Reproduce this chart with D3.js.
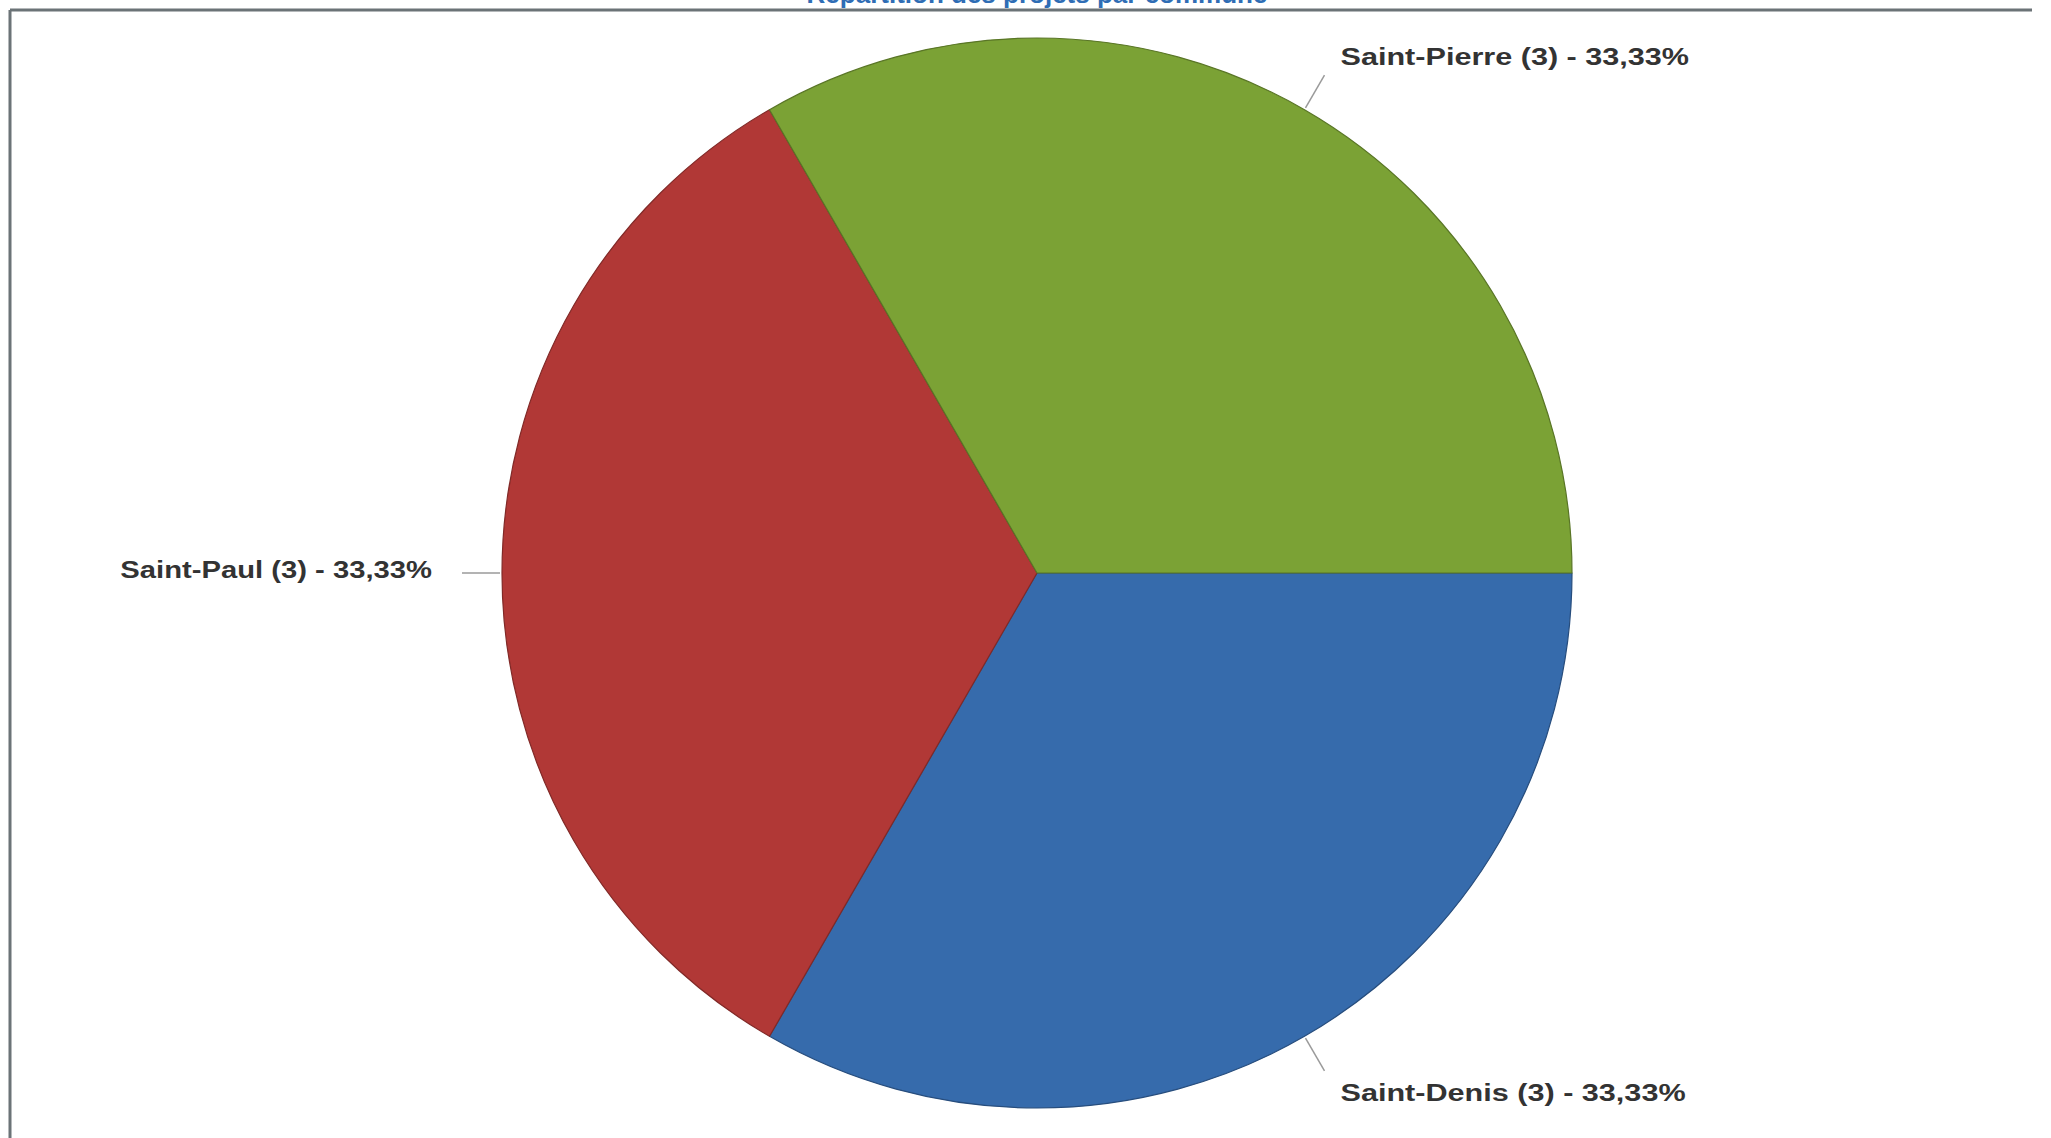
<!DOCTYPE html>
<html>
<head>
<meta charset="utf-8">
<script src="https://cdn.jsdelivr.net/npm/d3@7"></script>
<style>
  html, body { margin: 0; padding: 0; background: #ffffff; overflow: hidden; }
  svg { display: block; }
</style>
</head>
<body>
<svg id="chart" width="2051" height="1138"></svg>
<script>
// ---- data ----
const categories = ["Saint-Denis", "Saint-Paul", "Saint-Pierre"];
const counts = [3, 3, 3];
const percentLabels = ["33,33%", "33,33%", "33,33%"];
const colors = ["#3467a6", "#ab3634", "#779c33"];
const titleText = "Répartition des projets par commune";

const W = 2051, H = 1138;
const cx = 1037, cy = 573, R = 535;

const svg = d3.select("#chart");

// frame (left + top lines)
svg.append("line").attr("x1", 10).attr("y1", 10).attr("x2", 2032).attr("y2", 10)
  .attr("stroke", "#6b7377").attr("stroke-width", 3);
svg.append("line").attr("x1", 10).attr("y1", 10).attr("x2", 10).attr("y2", H)
  .attr("stroke", "#6b7377").attr("stroke-width", 3);

// title (cut off at top, as in the reference)
svg.append("text")
  .attr("x", cx).attr("y", 3)
  .attr("text-anchor", "middle")
  .attr("font-family", "Liberation Sans, Arial, sans-serif")
  .attr("font-weight", "bold")
  .attr("font-size", 26)
  .attr("fill", "#2f6db5")
  .text(titleText);

const defs = svg.append("defs");
colors.forEach((c, i) => {
  const g = defs.append("radialGradient")
    .attr("id", "grad" + i)
    .attr("gradientUnits", "userSpaceOnUse")
    .attr("cx", cx).attr("cy", cy).attr("r", R);
  g.append("stop").attr("offset", "0%").attr("stop-color", d3.color(c).darker(0.12));
  g.append("stop").attr("offset", "100%").attr("stop-color", d3.color(c).brighter(0.1));
});

const data = categories.map((name, i) => ({ name, value: counts[i], pct: percentLabels[i], i }));

const pie = d3.pie()
  .value(d => d.value)
  .sort(null)
  .startAngle(Math.PI / 2)
  .endAngle(Math.PI / 2 + 2 * Math.PI);

const arcs = pie(data);
const arc = d3.arc().innerRadius(0).outerRadius(R);

const g = svg.append("g").attr("transform", `translate(${cx},${cy})`);

g.selectAll("path.slice")
  .data(arcs)
  .enter().append("path")
  .attr("class", "slice")
  .attr("d", arc)
  .attr("fill", d => `url(#grad${d.data.i})`)
  .attr("stroke", d => d3.color(colors[d.data.i]).darker(0.8))
  .attr("stroke-width", 1.2)
  .attr("stroke-linejoin", "round");

// labels with leader lines
arcs.forEach(a => {
  const mid = (a.startAngle + a.endAngle) / 2;
  const p1 = [Math.sin(mid) * (R + 2), -Math.cos(mid) * (R + 2)];
  const p2 = [Math.sin(mid) * (R + 40), -Math.cos(mid) * (R + 40)];
  const right = Math.sin(mid) > 0.01;
  g.append("line")
    .attr("x1", p1[0]).attr("y1", p1[1])
    .attr("x2", p2[0]).attr("y2", p2[1])
    .attr("stroke", "#9a9a9a").attr("stroke-width", 1.5);
  const tx = right ? p2[0] + 16 : p2[0] - 30;
  const t = g.append("text")
    .attr("x", tx)
    .attr("y", p2[1] + (right ? (p2[1] < 0 ? -10 : 30) : 5))
    .attr("text-anchor", right ? "start" : "end")
    .attr("font-family", "Liberation Sans, Arial, sans-serif")
    .attr("font-weight", "bold")
    .attr("font-size", 23)
    .attr("fill", "#333333")
    .text(`${a.data.name} (${a.data.value}) - ${a.data.pct}`);
  const natural = t.node().getComputedTextLength();
  t.attr("textLength", natural * (right ? 1.33 : 1.27)).attr("lengthAdjust", "spacingAndGlyphs");
});
</script>
</body>
</html>
